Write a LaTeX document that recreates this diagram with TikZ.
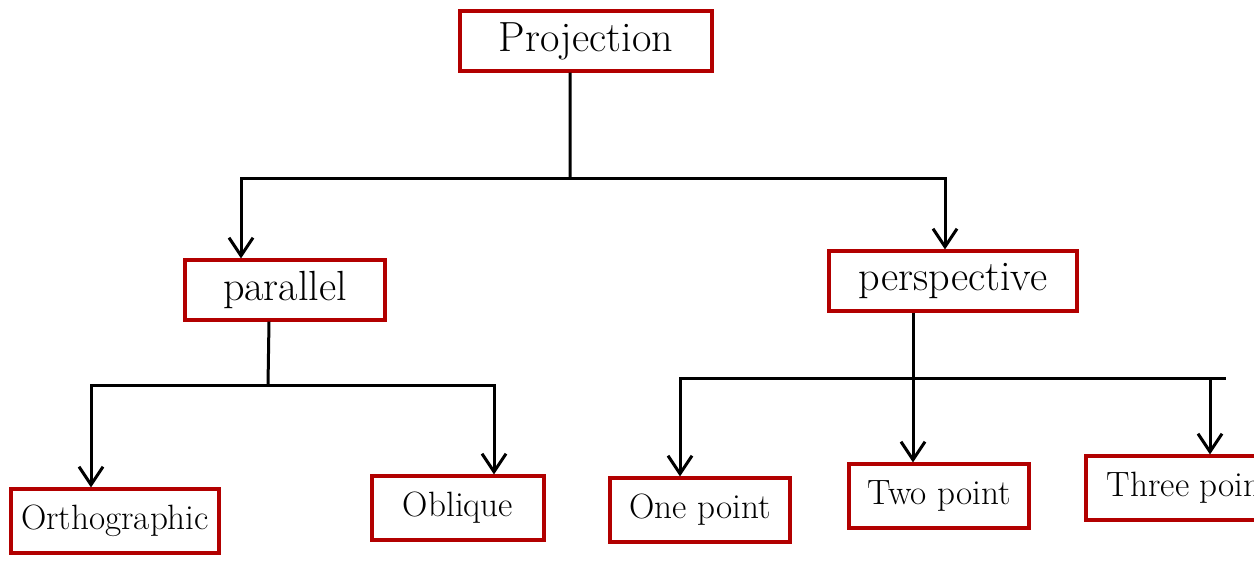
\documentclass[tikz,border=0pt]{standalone}
\usepackage{xcolor}
\usetikzlibrary{arrows.meta}

\colorlet{boxred}{red!70!black}

\begin{document}
\begin{tikzpicture}[x=0.25mm, y=-0.25mm,
	box/.style={draw=boxred, line width=0.8mm, minimum height=15mm, inner sep=0pt,
		font=\fontsize{25}{28}\selectfont},
	bigbox/.style={box, font=\fontsize{30}{34}\selectfont},
	link/.style={line width=0.75mm, black},
	arr/.style={link, -{Straight Barb[length=4.5mm, width=6mm, line width=0.75mm]}}]

\useasboundingbox (0, 0) rectangle (1254, 570);
\clip (0, 0) rectangle (1254, 570); % cut off the right edge

% boxes
\node[bigbox, minimum width=63mm] (proj) at (586, 41) {Projection};
\node[bigbox, minimum width=50mm] (par) at (285, 290) {parallel};
\node[bigbox, minimum width=62mm] (persp) at (953, 281) {perspective};

\node[box, minimum width=52mm, minimum height=16mm] (ortho) at (115, 521) {Orthographic};
\node[box, minimum width=43mm, minimum height=16mm] (obl) at (458, 508) {Oblique};
\node[box, minimum width=45mm, minimum height=16mm] (onept) at (700, 510) {One point};
\node[box, minimum width=45mm, minimum height=16mm] (twopt) at (939, 496) {Two point};
\node[box, minimum width=52mm, minimum height=16mm] (threept) at (1190, 488) {Three point};

% top level split
\coordinate (topbar) at (570, 178);
\draw[link] ([xshift=-4mm]proj.south) -- (topbar);
\draw[arr] (topbar) -| ([xshift=-11mm]par.north);
\draw[arr] (topbar) -| ([xshift=-2mm]persp.north);

% parallel split
\coordinate (parbar) at (268, 385);
\draw[link] ([xshift=-4mm]par.south) -- (parbar);
\draw[arr] (parbar) -| ([xshift=-6mm]ortho.north);
\draw[arr] (parbar) -| ([xshift=9mm]obl.north);

% perspective split
\coordinate (perspbar) at (913, 378);
\coordinate (barend) at (1226, 378);
\draw[arr] ([xshift=-10mm]persp.south) -- ([xshift=-10mm]persp.south |- twopt.north);
\draw[arr] (perspbar) -| ([xshift=-5mm]onept.north);
\draw[arr] (perspbar) -| ([xshift=5mm]threept.north);
\draw[link] (perspbar) -- (barend);

\end{tikzpicture}
\end{document}
